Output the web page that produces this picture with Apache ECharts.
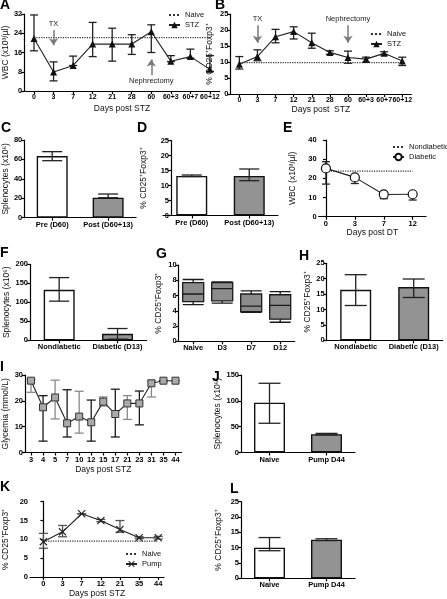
<!DOCTYPE html>
<html><head><meta charset="utf-8">
<script src="https://cdn.jsdelivr.net/npm/echarts@6/dist/echarts.min.js"></script>
<style>html,body{margin:0;padding:0;background:#fff}#c{width:447px;height:599px}</style>
</head><body><div id="c"></div>
<script>
// ---------------- DATA ----------------
const A_days = ['0','3','7','12','21','28','60','60+3','60+7','60+12'];
const A_wbc = [21.8, 7.9, 10.6, 19.5, 19.5, 19.5, 24.6, 12.4, 14.3, 9.0];
const A_wbcLow = [16.7, 4.2, 10.6, 14.3, 12.4, 15.2, 16.0, 12.2, 13.6, 8.1];
const A_wbcHigh = [31.6, 12.1, 14.5, 28.5, 26.1, 23.4, 27.5, 14.7, 17.4, 14.7];
const A_naive = 22.2;

const B_days = ['0','3','7','12','21','28','60','60+3','60+7','60+12'];
const B_treg = [9.3, 11.7, 17.9, 19.5, 16.0, 13.0, 11.4, 10.9, 12.7, 10.3];
const B_tregLow = [7.8, 10.4, 16.0, 17.2, 14.3, 12.4, 9.6, 9.9, 12.2, 8.9];
const B_tregHigh = [11.7, 13.8, 20.2, 21.0, 19.0, 13.5, 13.4, 11.5, 13.2, 11.5];
const B_naive = 9.8;

const C_groups = ['Pre (D60)', 'Post (D60+13)'];
const C_spleno = [63.5, 20.6];
const C_low = [58.7, 20.6];
const C_high = [68.0, 24.4];

const D_groups = ['Pre (D60)', 'Post (D60+13)'];
const D_treg = [13.2, 13.2];
const D_low = [13.0, 11.6];
const D_high = [13.5, 15.5];

const E_days = ['0', '3', '7', '12'];
const E_wbc = [25.2, 20.5, 11.6, 11.7];
const E_low = [17.0, 17.3, 9.4, 8.7];
const E_high = [28.7, 21.0, 12.7, 12.3];
const E_nondiab = 23.8;

const F_groups = ['Nondiabetic', 'Diabetic (D13)'];
const F_spleno = [133, 17];
const F_low = [103, 3];
const F_high = [165, 31];

const G_groups = ['Naive', 'D3', 'D7', 'D12'];
// [min, Q1, median, Q3, max]
const G_naive = [4.8, 5.2, 6.2, 7.7, 8.1];
const G_d3 = [5.0, 5.3, 6.9, 7.7, 7.8];
const G_d7 = [3.8, 3.9, 4.6, 6.2, 6.6];
const G_d12 = [2.5, 2.9, 4.7, 6.1, 6.5];

const H_groups = ['Nondiabetic', 'Diabetic (D13)'];
const H_treg = [16.4, 17.3];
const H_low = [11.3, 13.9];
const H_high = [21.3, 19.9];

const I_days = ['3','4','5','7','10','12','15','17','21','23','31','35','44'];
const I_glyc = [27.8, 17.5, 21.3, 11.3, 13.9, 11.7, 19.7, 14.9, 19.0, 19.0, 26.8, 27.8, 27.8];
const I_low = [23.3, 4.4, 13.0, 6.0, 7.5, 4.4, 18.0, 6.0, 12.8, 10.7, 21.5, 27.8, 27.8];
const I_high = [28.3, 22.0, 28.0, 24.3, 23.7, 20.3, 21.5, 24.5, 22.0, 23.8, 27.8, 27.8, 27.8];

const J_groups = ['Naive', 'Pump D44'];
const J_spleno = [96.5, 35.5];
const J_low = [56.6, 34.0];
const J_high = [134, 37.0];

const K_days = ['0','3','7','12','21','35','44'];
const K_treg = [9.4, 12.0, 16.8, 15.0, 12.6, 10.45, 10.45];
const K_low = [7.65, 10.7, 16.8, 14.7, 11.9, 10.2, 10.1];
const K_high = [11.6, 13.7, 16.8, 15.3, 15.0, 10.7, 10.8];
const K_naive = 9.55;

const L_groups = ['Naive', 'Pump D44'];
const L_treg = [10.0, 12.6];
const L_low = [9.0, 12.3];
const L_high = [13.3, 12.9];

// ---------------- STYLE / BUILD ----------------
const FONT = '"Liberation Sans", Arial, Helvetica, sans-serif';
const AX = {color: '#000', width: 1.2};
const GRAY = '#939393';
const TICK_FS = 7.5;
const grids = [], xAxes = [], yAxes = [], series = [], titles = [], legends = [];

function grid(left, top, width, height) { grids.push({left, top, width, height}); return grids.length - 1; }
function yAx(gi, max, interval, name, gap, offset) {
  yAxes.push({gridIndex: gi, type: 'value', min: 0, max, interval, name, nameLocation: 'middle', nameRotate: 90, nameGap: gap,
    offset: offset || 0,
    nameTextStyle: {fontSize: 8.5, fontFamily: FONT, color: '#111'},
    axisLine: {show: true, lineStyle: AX}, axisTick: {show: true, length: 3, lineStyle: AX},
    axisLabel: {fontSize: TICK_FS, fontWeight: 'bold', fontFamily: FONT, color: '#000', margin: 2}, splitLine: {show: false}});
}
function xCat(gi, data, name, gap, fs) {
  xAxes.push({gridIndex: gi, type: 'category', data, boundaryGap: true, name: name || '', nameLocation: 'middle', nameGap: gap || 10,
    nameTextStyle: {fontSize: 8.5, fontFamily: FONT, color: '#111'},
    axisLine: {show: true, lineStyle: AX}, axisTick: {show: true, alignWithLabel: true, length: 3, lineStyle: AX},
    axisLabel: {interval: 0, fontSize: fs || TICK_FS, fontWeight: 'bold', fontFamily: FONT, color: '#000', margin: 3}, splitLine: {show: false}});
}
function xVal(gi, labels, min, max, name, gap) {
  const idx = labels.map((_, i) => i);
  xAxes.push({gridIndex: gi, type: 'value', min, max, name, nameLocation: 'middle', nameGap: gap,
    nameTextStyle: {fontSize: 8.5, fontFamily: FONT, color: '#111'},
    axisLine: {show: true, onZero: false, lineStyle: AX}, axisTick: {show: true, length: 3, lineStyle: AX, customValues: idx},
    axisLabel: {customValues: idx, formatter: v => labels[Math.round(v)], fontSize: TICK_FS, fontWeight: 'bold', fontFamily: FONT, color: '#000', margin: 3},
    splitLine: {show: false}});
}
function errBars(gi, n, low, high, cap, colorFn) {
  const data = [];
  for (let i = 0; i < n; i++) data.push([i, low[i], high[i]]);
  series.push({type: 'custom', xAxisIndex: gi, yAxisIndex: gi, z: 4, silent: true, data,
    renderItem(params, api) {
      const x = api.value(0);
      const p1 = api.coord([x, api.value(1)]);
      const p2 = api.coord([x, api.value(2)]);
      const st = {stroke: colorFn ? colorFn(params.dataIndex) : '#222', lineWidth: 1.3};
      return {type: 'group', children: [
        {type: 'line', shape: {x1: p1[0], y1: p1[1], x2: p2[0], y2: p2[1]}, style: st},
        {type: 'line', shape: {x1: p1[0] - cap / 2, y1: p1[1], x2: p1[0] + cap / 2, y2: p1[1]}, style: st},
        {type: 'line', shape: {x1: p2[0] - cap / 2, y1: p2[1], x2: p2[0] + cap / 2, y2: p2[1]}, style: st}
      ]};
    }});
}
function bars(gi, vals, colors) {
  series.push({type: 'bar', xAxisIndex: gi, yAxisIndex: gi, barWidth: 31, z: 2, silent: true,
    data: vals.map((v, i) => ({value: v, itemStyle: {color: colors[i], borderColor: '#111', borderWidth: 1.4}}))});
}
function refLine(gi, name, x0, x1, v) {
  series.push({type: 'line', name, xAxisIndex: gi, yAxisIndex: gi, symbol: 'none', silent: true, z: 1,
    itemStyle: {color: '#333'},
    lineStyle: {type: 'dotted', color: '#333', width: 1.2}, data: [[x0, v], [x1, v]]});
}
function letter(t, left, top) {
  titles.push({text: t, left, top, padding: 0, textStyle: {fontSize: 14, fontWeight: 'bold', fontFamily: FONT, color: '#000'}});
}
function legend(refName, markName, left, top) {
  legends.push({data: [{name: refName, itemStyle: {color: 'rgba(0,0,0,0)', borderWidth: 0}}, markName],
    left, top, orient: 'vertical', padding: 0, itemWidth: 11, itemHeight: 8, itemGap: 0,
    selectedMode: false, textStyle: {fontSize: 7.5, fontFamily: FONT, color: '#111', lineHeight: 10}});
}
const arrowLabel = {show: true, position: 'start', formatter: '{b}', fontSize: 7.5, fontFamily: FONT, color: '#222', distance: 2};

// A
let g = grid(22.7, 14, 197, 77);
xCat(g, A_days, 'Days post STZ', 13, 7); yAx(g, 32, 8, 'WBC (x10³/µl)', 12);
refLine(g, 'Naive', 0, A_days.length - 1, A_naive);
errBars(g, A_days.length, A_wbcLow, A_wbcHigh, 8);
series.push({type: 'line', name: 'STZ', xAxisIndex: g, yAxisIndex: g, data: A_wbc, symbol: 'triangle', symbolSize: 7, z: 5,
  lineStyle: {color: '#222', width: 1.1}, itemStyle: {color: '#111'},
  markLine: {silent: true, animation: false, symbol: ['none', 'arrow'], symbolSize: 7,
    lineStyle: {color: '#7a7a7a', width: 1.5, type: 'solid'}, label: arrowLabel,
    data: [[{name: 'TX', coord: [1, 25.3]}, {coord: [1, 19]}], [{name: 'Nephrectomy', coord: [6, 6.5]}, {coord: [6, 13.1]}]]}});
letter('A', 0, -2); legend('Naive', 'STZ', 168, 10);

// B
g = grid(230.3, 14, 181, 80);
xCat(g, B_days, 'Days post  STZ', 10, 7); yAx(g, 25, 5, '% CD25⁺Foxp3⁺', 16);
refLine(g, 'Naive', 0, B_days.length - 1, B_naive);
errBars(g, B_days.length, B_tregLow, B_tregHigh, 8);
series.push({type: 'line', name: 'STZ', xAxisIndex: g, yAxisIndex: g, data: B_treg, symbol: 'triangle', symbolSize: 7, z: 5,
  lineStyle: {color: '#222', width: 1.1}, itemStyle: {color: '#111'},
  markLine: {silent: true, animation: false, symbol: ['none', 'arrow'], symbolSize: 7,
    lineStyle: {color: '#7a7a7a', width: 1.5, type: 'solid'}, label: arrowLabel,
    data: [[{name: 'TX', coord: [1, 21.5]}, {coord: [1, 16]}], [{name: 'Nephrectomy', coord: [6, 21.5]}, {coord: [6, 16]}]]}});
letter('B', 215, -2); legend('Naive', 'STZ', 370, 29);

// C
g = grid(22.7, 140, 113.4, 77.7);
xCat(g, C_groups); yAx(g, 80, 20, 'Splenocytes (x10⁶)', 13);
bars(g, C_spleno, ['#fff', GRAY]); errBars(g, 2, C_low, C_high, 20);
letter('C', 1, 121);

// D
g = grid(163, 140.5, 115, 75);
xCat(g, D_groups); yAx(g, 25, 5, '% CD25⁺Foxp3⁺', 23, -8);
bars(g, D_treg, ['#fff', GRAY]); errBars(g, 2, D_low, D_high, 20);
letter('D', 137, 121);

// E
g = grid(318.7, 140, 107.3, 76.7);
xVal(g, E_days, -0.25, 3.46, 'Days post DT', 11); yAx(g, 40, 10, 'WBC (x10³/µl)', 22);
refLine(g, 'Nondiabetic', 0, E_days.length - 1, E_nondiab);
errBars(g, E_days.length, E_low, E_high, 8);
series.push({type: 'line', name: 'Diabetic', xAxisIndex: g, yAxisIndex: g, data: E_wbc.map((v, i) => [i, v]), symbol: 'circle', symbolSize: 9, z: 5,
  lineStyle: {color: '#222', width: 1.1}, itemStyle: {color: '#fff', borderColor: '#111', borderWidth: 1.2}});
letter('E', 283, 121); legend('Nondiabetic', 'Diabetic', 392, 142);

// F
g = grid(30, 264.3, 116.7, 76);
xCat(g, F_groups); yAx(g, 200, 50, 'Splenocytes (x10⁶)', 18);
bars(g, F_spleno, ['#fff', GRAY]); errBars(g, 2, F_low, F_high, 20);
letter('F', 0, 246);

// G
g = grid(178.7, 265, 116, 76.3);
xCat(g, G_groups); yAx(g, 10, 2, '% CD25⁺Foxp3⁺', 15.5);
series.push({type: 'boxplot', xAxisIndex: g, yAxisIndex: g, boxWidth: [21, 21], silent: true,
  itemStyle: {color: '#8c8c8c', borderColor: '#1a1a1a', borderWidth: 1.3},
  data: [G_naive, G_d3, G_d7, G_d12]});
letter('G', 156, 247);

// H
g = grid(326.7, 263.3, 116, 77);
xCat(g, H_groups); yAx(g, 25, 5, '% CD25⁺Foxp3⁺', 13.5);
bars(g, H_treg, ['#fff', GRAY]); errBars(g, 2, H_low, H_high, 22);
letter('H', 299, 249);

// I
g = grid(23.3, 375, 158.2, 77.5);
xCat(g, I_days, 'Days post STZ', 13); yAx(g, 30, 10, 'Glycemia (mmol/L)', 15);
errBars(g, I_days.length, I_low, I_high, 9, i => (i % 2 === 0 ? '#8a8a8a' : '#1a1a1a'));
series.push({type: 'line', name: 'Glycemia', xAxisIndex: g, yAxisIndex: g, data: I_glyc, symbol: 'rect', symbolSize: 7, z: 5,
  lineStyle: {color: '#222', width: 1.1}, itemStyle: {color: '#aaa', borderColor: '#333', borderWidth: 1}});
letter('I', 0, 360);

// J
g = grid(241, 375, 114, 77.5);
xCat(g, J_groups); yAx(g, 150, 50, 'Splenocytes (x10⁶)', 18);
bars(g, J_spleno, ['#fff', GRAY]); errBars(g, 2, J_low, J_high, 22);
letter('J', 212, 370);

// K
g = grid(30, 501.7, 134, 76.6);
xVal(g, K_days, -0.7, 6.3, 'Days post STZ', 10); yAx(g, 20, 5, '% CD25⁺Foxp3⁺', 20);
refLine(g, 'Naive', 0, K_days.length - 1, K_naive);
errBars(g, K_days.length, K_low, K_high, 9, () => '#555');
series.push({type: 'line', name: 'Pump', xAxisIndex: g, yAxisIndex: g, data: K_treg.map((v, i) => [i, v]),
  symbol: 'path://M1,0L5,4L9,0L10,1L6,5L10,9L9,10L5,6L1,10L0,9L4,5L0,1Z', symbolSize: 8, z: 5,
  lineStyle: {color: '#222', width: 1.1}, itemStyle: {color: '#222'}});
letter('K', 0, 480); legend('Naive', 'Pump', 125, 549);

// L
g = grid(241, 501.7, 114, 76.6);
xCat(g, L_groups); yAx(g, 25, 5, '% CD25⁺Foxp3⁺', 18);
bars(g, L_treg, ['#fff', GRAY]); errBars(g, 2, L_low, L_high, 22);
letter('L', 230, 482);

const chart = echarts.init(document.getElementById('c'), null, {renderer: 'canvas'});
chart.setOption({animation: false, backgroundColor: '#fff', textStyle: {fontFamily: FONT},
  title: titles, legend: legends, grid: grids, xAxis: xAxes, yAxis: yAxes, series});
</script></body></html>
